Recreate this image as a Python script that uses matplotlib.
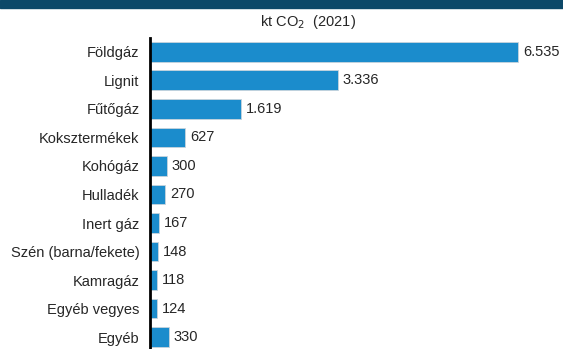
import matplotlib.pyplot as plt
import numpy as np

categories = ['Földgáz', 'Lignit', 'Fűtőgáz', 'Koksztermékek', 'Kohógáz', 'Hulladék',
              'Inert gáz', 'Szén (barna/fekete)', 'Kamragáz', 'Egyéb vegyes', 'Egyéb']
values = [6535, 3336, 1619, 627, 300, 270, 167, 148, 118, 124, 330]
labels = ['6.535', '3.336', '1.619', '627', '300', '270', '167', '148', '118', '124', '330']

W, H = 563, 349
fig = plt.figure(figsize=(W / 100, H / 100), dpi=100)
plt.rcParams['font.family'] = ['Liberation Sans', 'DejaVu Sans']

# dark band at the top
fig.patches.append(plt.Rectangle((0, 1 - 8 / H), 1, 8 / H, transform=fig.transFigure,
                                 color='#0c4868', zorder=0))

ax = fig.add_axes([150 / W, 0, 1 - 150 / W, (H - 38) / H])
y = np.arange(len(categories))
ax.barh(y, values, height=0.7, color='#1b8ccc', edgecolor='#c8d4dc', linewidth=0.6)
ax.set_xlim(0, 6535 * (W - 150) / 368)
ax.set_ylim(10.42, -0.49)

for yi, v, lab in zip(y, values, labels):
    ax.text(v + 85, yi, lab, va='center', ha='left', fontsize=10.5, color='#262626')

ax.set_yticks(y)
ax.set_yticklabels(categories, fontsize=10.5, color='#262626')
ax.tick_params(axis='y', length=0, pad=7.5)
ax.set_xticks([])
for s in ['top', 'right', 'bottom']:
    ax.spines[s].set_visible(False)
ax.spines['left'].set_linewidth(2)
ax.spines['left'].set_color('black')

fig.text(308 / W, 1 - 22 / H, 'kt CO$_2$  (2021)', ha='center', va='center',
         fontsize=10.5, color='#262626')

fig.savefig('out.png', dpi=100)
